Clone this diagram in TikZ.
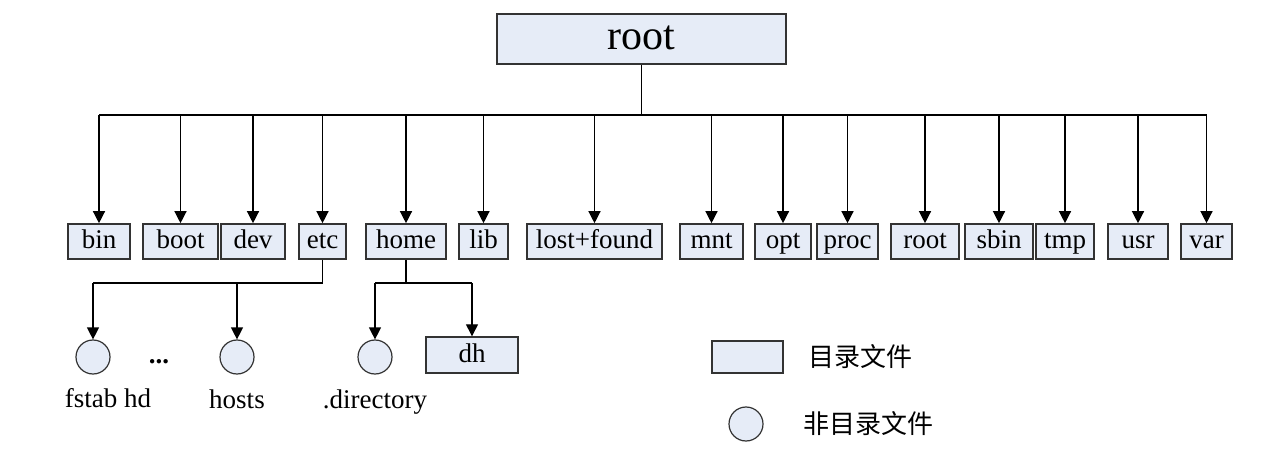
\documentclass[tikz,border=0pt]{standalone}
\usepackage{fontspec}
\setmainfont{Liberation Serif}
\newfontfamily\cjk{Noto Sans CJK SC}
\usetikzlibrary{arrows.meta}
\definecolor{boxfill}{HTML}{E6ECF7}
\definecolor{boxline}{HTML}{333333}
\begin{document}
\begin{tikzpicture}[x=1pt,y=-1pt,
  dirbox/.style={draw=boxline,line width=1.6pt,fill=boxfill,inner sep=0pt,minimum height=35pt,text height=20pt,text depth=6pt,font=\fontsize{27}{30}\selectfont},
  filecirc/.style={circle,draw=boxline,line width=1.2pt,fill=boxfill,inner sep=0pt,minimum size=34pt},
  lbl/.style={inner sep=0pt,font=\fontsize{27}{30}\selectfont},
  conn/.style={line width=1.3pt,draw=black},
  arr/.style={conn,-{Triangle[length=12pt,width=12pt]}}]
\useasboundingbox (0,0) rectangle (1283,473);
% root
\node[dirbox,minimum width=289pt,minimum height=50pt,text height=30pt,text depth=9pt,font=\fontsize{42}{48}\selectfont] (top) at (641.5,39) {root};
% first level
\node[dirbox,minimum width=62pt] (bin) at (99,241.5) {bin};
\node[dirbox,minimum width=75pt] (boot) at (180.5,241.5) {boot};
\node[dirbox,minimum width=64pt] (dev) at (253,241.5) {dev};
\node[dirbox,minimum width=47pt] (etc) at (322.5,241.5) {etc};
\node[dirbox,minimum width=80pt] (home) at (406,241.5) {home};
\node[dirbox,minimum width=49pt] (lib) at (483.5,241.5) {lib};
\node[dirbox,minimum width=135pt] (lost) at (594.5,241.5) {lost+found};
\node[dirbox,minimum width=63pt] (mnt) at (711.5,241.5) {mnt};
\node[dirbox,minimum width=56pt] (opt) at (783,241.5) {opt};
\node[dirbox,minimum width=61pt] (proc) at (847.5,241.5) {proc};
\node[dirbox,minimum width=68pt] (rootd) at (925,241.5) {root};
\node[dirbox,minimum width=68pt] (sbin) at (999,241.5) {sbin};
\node[dirbox,minimum width=58pt] (tmp) at (1065,241.5) {tmp};
\node[dirbox,minimum width=60pt] (usr) at (1138,241.5) {usr};
\node[dirbox,minimum width=51pt] (var) at (1206.5,241.5) {var};
% bus
\coordinate (bus) at (641.5,115);
\draw[conn] (top.south) -- (bus);
\draw[conn] (bus -| bin.north) -- (bus -| var.north);
\foreach \n in {bin,boot,dev,etc,home,lib,lost,mnt,opt,proc,rootd,sbin,tmp,usr,var}
  \draw[arr] (bus -| \n.north) -- (\n.north);
% second level
\node[filecirc] (fstab) at (93,357) {};
\node[filecirc] (hosts) at (237,357) {};
\node[filecirc] (dird) at (375,357) {};
\node[dirbox,line width=1.4pt,minimum width=92pt,minimum height=36pt] (dh) at (472,355) {dh};
\node[lbl,anchor=base] (fstabl) at (108,407) {fstab hd};
\node[lbl,anchor=base] (hostsl) at (237,408) {hosts};
\node[lbl,anchor=base] (dirl) at (375,408) {.directory};
\node[lbl,anchor=base,font=\bfseries\fontsize{27}{30}\selectfont] (dots) at (159,363) {...};
\coordinate (ej) at (0,283);
\draw[conn] (etc.south) -- (etc.south |- ej) -- (fstab.north |- ej);
\draw[arr] (fstab.north |- ej) -- (fstab.north);
\draw[arr] (hosts.north |- ej) -- (hosts.north);
\draw[conn] (home.south) -- (home.south |- ej);
\draw[conn] (dird.north |- ej) -- (dh.north |- ej);
\draw[arr] (dird.north |- ej) -- (dird.north);
\draw[arr] (dh.north |- ej) -- (dh.north);
% legend
\node[dirbox,minimum width=71pt,minimum height=32pt] (legbox) at (747.5,357) {};
\node[lbl,anchor=west,font=\cjk\fontsize{26}{30}\selectfont] (legdir) at (808,357) {目录文件};
\node[filecirc] (legcirc) at (746,424) {};
\node[lbl,anchor=west,font=\cjk\fontsize{26}{30}\selectfont] (legfile) at (803,424) {非目录文件};
\end{tikzpicture}
\end{document}
